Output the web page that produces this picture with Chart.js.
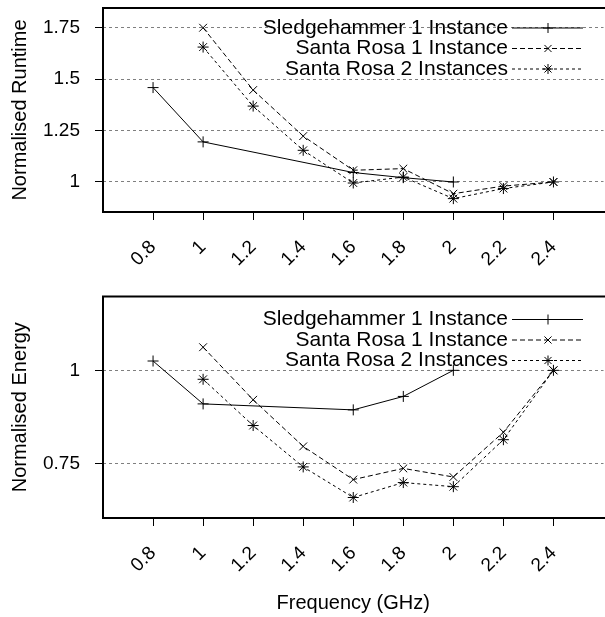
<!DOCTYPE html>
<html>
<head>
<meta charset="utf-8">
<script src="https://cdn.jsdelivr.net/npm/chart.js@4.4.1/dist/chart.umd.min.js"></script>
<style>
  html, body { margin: 0; padding: 0; background: #fff; overflow: hidden; }
  #wrap { position: relative; width: 605px; height: 617px; overflow: hidden; }
  .box { position: absolute; left: 0; width: 610px; }
</style>
</head>
<body>
<div id="wrap">
  <div class="box" style="top:0;height:290px"><canvas id="runtime"></canvas></div>
  <div class="box" style="top:290px;height:327px"><canvas id="energy"></canvas></div>
</div>
<script>
// frequencies (GHz)
const xTicks = [0.8, 1, 1.2, 1.4, 1.6, 1.8, 2, 2.2, 2.4];
const sledgeFreq = [0.8, 1, 1.6, 1.8, 2];
const santaFreq = [1, 1.2, 1.4, 1.6, 1.8, 2, 2.2, 2.4];

const seriesNames = ['Sledgehammer 1 Instance', 'Santa Rosa 1 Instance', 'Santa Rosa 2 Instances'];

// normalised runtime
const sledgeRuntime = [1.459, 1.195, 1.046, 1.021, 1.0];
const sr1Runtime = [1.75, 1.447, 1.223, 1.057, 1.065, 0.943, 0.98, 1.0];
const sr2Runtime = [1.656, 1.369, 1.154, 0.995, 1.024, 0.919, 0.968, 1.0];
const runtimeTicks = [1, 1.25, 1.5, 1.75];

// normalised energy
const sledgeEnergy = [1.025, 0.910, 0.894, 0.930, 1.0];
const sr1Energy = [1.062, 0.921, 0.796, 0.707, 0.737, 0.714, 0.834, 1.0];
const sr2Energy = [0.976, 0.852, 0.741, 0.659, 0.699, 0.688, 0.814, 1.0];
const energyTicks = [0.75, 1];

Chart.defaults.font.family = "'Liberation Sans', Arial, sans-serif";
Chart.defaults.color = '#000';

const styles = [
  { pointStyle: 'cross', borderDash: [] },
  { pointStyle: 'crossRot', borderDash: [5, 3] },
  { pointStyle: 'star', borderDash: [3, 3] }
];

function pts(xs, ys) {
  return xs.map((x, i) => ({ x: x, y: ys[i] }));
}

function makeSets(list) {
  return list.map((d, i) => ({
    label: seriesNames[i],
    data: d,
    borderColor: '#000',
    borderWidth: 1,
    borderDash: styles[i].borderDash,
    pointStyle: styles[i].pointStyle,
    pointRadius: 5.5,
    pointBorderWidth: 1,
    pointBorderColor: '#000',
    pointBackgroundColor: 'rgba(0,0,0,0)',
    tension: 0
  }));
}

// draw a marker like the point styles
function marker(ctx, style, x, y, r) {
  ctx.beginPath();
  if (style === 'cross' || style === 'star') {
    ctx.moveTo(x - r, y); ctx.lineTo(x + r, y);
    ctx.moveTo(x, y - r); ctx.lineTo(x, y + r);
  }
  if (style === 'crossRot' || style === 'star') {
    const d = r * Math.SQRT1_2;
    ctx.moveTo(x - d, y - d); ctx.lineTo(x + d, y + d);
    ctx.moveTo(x - d, y + d); ctx.lineTo(x + d, y - d);
  }
  ctx.stroke();
}

// box (no right side) + legend in the top right corner
const framePlugin = {
  id: 'frame',
  afterDraw(chart, args, opts) {
    const ctx = chart.ctx;
    const a = chart.chartArea;
    ctx.save();
    ctx.strokeStyle = '#000';
    ctx.lineWidth = 2;
    ctx.beginPath();
    ctx.moveTo(chart.width, a.top);
    ctx.lineTo(a.left, a.top);
    ctx.lineTo(a.left, a.bottom);
    ctx.lineTo(chart.width, a.bottom);
    ctx.stroke();

    ctx.font = '21px ' + Chart.defaults.font.family;
    ctx.textAlign = 'right';
    ctx.textBaseline = 'middle';
    ctx.fillStyle = '#000';
    ctx.lineWidth = 1;
    seriesNames.forEach((name, i) => {
      const y = a.top + opts.top + i * 20.5;
      ctx.fillText(name, 508, y);
      ctx.setLineDash(styles[i].borderDash);
      ctx.beginPath();
      ctx.moveTo(512, y); ctx.lineTo(583, y);
      ctx.stroke();
      ctx.setLineDash([]);
      marker(ctx, styles[i].pointStyle, 548, y, 5);
    });
    ctx.restore();
  }
};

function makeChart(id, sets, yTicks, yMin, yMax, yTitle, opt) {
  return new Chart(document.getElementById(id), {
    type: 'line',
    data: { datasets: makeSets(sets) },
    plugins: [framePlugin],
    options: {
      responsive: true,
      maintainAspectRatio: false,
      animation: false,
      layout: { padding: { top: opt.padTop, right: 1, left: 0, bottom: 0 } },
      plugins: {
        legend: { display: false },
        tooltip: { enabled: false },
        frame: { top: opt.legendTop }
      },
      scales: {
        x: {
          type: 'linear',
          min: 0.6,
          max: 2.6,
          afterBuildTicks: s => { s.ticks = xTicks.map(v => ({ value: v })); },
          afterFit: s => { s.height = opt.xHeight; s.paddingLeft = 0; s.paddingRight = 0; },
          border: { display: false },
          grid: { drawOnChartArea: false, tickLength: 8, tickColor: '#000', tickWidth: 1 },
          ticks: {
            minRotation: 45, maxRotation: 45, padding: 16,
            font: { size: 19 },
            callback: v => String(v)
          },
          title: {
            display: !!opt.xTitle,
            text: opt.xTitle || '',
            font: { size: 20 },
            padding: 2
          }
        },
        y: {
          min: yMin,
          max: yMax,
          afterBuildTicks: s => { s.ticks = yTicks.map(v => ({ value: v })); },
          afterFit: s => { s.width = 103; s.paddingTop = 0; s.paddingBottom = 0; },
          border: { display: false, dash: [3, 3] },
          grid: {
            color: 'rgba(0,0,0,0.5)', lineWidth: 1,
            tickLength: 8, tickColor: '#000', tickWidth: 1, tickBorderDash: []
          },
          ticks: { padding: 15, font: { size: 19 }, callback: v => String(v) },
          title: { display: true, text: yTitle, font: { size: 20 }, padding: 8 }
        }
      }
    }
  });
}

makeChart('runtime',
  [pts(sledgeFreq, sledgeRuntime), pts(santaFreq, sr1Runtime), pts(santaFreq, sr2Runtime)],
  runtimeTicks, 0.854, 1.846, 'Normalised Runtime',
  { padTop: 8, xHeight: 78, legendTop: 20 });

makeChart('energy',
  [pts(sledgeFreq, sledgeEnergy), pts(santaFreq, sr1Energy), pts(santaFreq, sr2Energy)],
  energyTicks, 0.604, 1.198, 'Normalised Energy',
  { padTop: 5, xHeight: 99, legendTop: 23, xTitle: 'Frequency (GHz)' });
</script>
</body>
</html>
